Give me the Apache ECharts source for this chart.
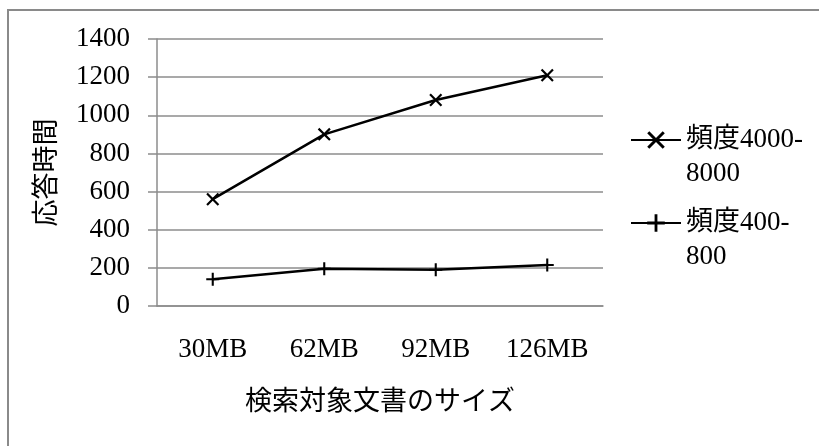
<!DOCTYPE html>
<html>
<head>
<meta charset="utf-8">
<script src="https://cdn.jsdelivr.net/npm/echarts@6/dist/echarts.min.js"></script>
<style>
  html, body { margin: 0; padding: 0; background: #fff; }
  #chart { width: 819px; height: 446px; }
</style>
</head>
<body>
<div id="chart"></div>
<script>
// Document size categories and measured response times
const categories = ['30MB', '62MB', '92MB', '126MB'];
const freqHigh = [560, 900, 1080, 1210];   // 頻度4000-8000
const freqLow = [140, 195, 190, 215];      // 頻度400-800
const yTicks = { min: 0, max: 1400, interval: 200 };

const seriesNames = ['頻度4000-\n8000', '頻度400-\n800'];

// Marker shapes: a diagonal cross and an upright plus
const crossPath = 'path://M0,1.2L1.2,0L5,3.8L8.8,0L10,1.2L6.2,5L10,8.8L8.8,10L5,6.2L1.2,10L0,8.8L3.8,5Z';
const plusPath = 'path://M0,4.2H4.2V0H5.8V4.2H10V5.8H5.8V10H4.2V5.8H0Z';

const serif = '"Liberation Serif", "Noto Sans CJK JP", serif';
const gothic = '"Noto Sans CJK JP", sans-serif';
const gridGray = '#8c8c8c';

const chart = echarts.init(document.getElementById('chart'), null, { renderer: 'canvas' });

// One legend block per series; a leading blank line keeps the marker
// level with the first line of the wrapped label.
function legendBlock(name, top) {
  return {
    data: [name],
    orient: 'vertical',
    left: 630,
    top: top,
    padding: 0,
    itemWidth: 50,
    itemHeight: 22,
    selectedMode: false,
    formatter: (n) => '\n' + n,
    textStyle: {
      fontFamily: serif,
      fontSize: 27,
      color: '#000',
      lineHeight: 34
    }
  };
}

chart.setOption({
  animation: false,
  backgroundColor: '#fff',
  graphic: [{
    type: 'rect',
    shape: { x: 8, y: 10, width: 900, height: 500 },
    style: { fill: 'none', stroke: '#8a8a8a', lineWidth: 2 },
    silent: true
  }],
  grid: { left: 157, right: 216, top: 39, bottom: 140 },
  legend: [legendBlock(seriesNames[0], 89), legendBlock(seriesNames[1], 172)],
  xAxis: {
    type: 'category',
    data: categories,
    boundaryGap: true,
    name: '検索対象文書のサイズ',
    nameLocation: 'middle',
    nameGap: 80,
    nameTextStyle: { fontFamily: gothic, fontSize: 27, color: '#000' },
    axisLine: { show: true, lineStyle: { color: gridGray, width: 1.5 } },
    axisTick: { show: false },
    axisLabel: { fontFamily: serif, fontSize: 27, color: '#000', margin: 30 }
  },
  yAxis: {
    type: 'value',
    min: yTicks.min,
    max: yTicks.max,
    interval: yTicks.interval,
    name: '応答時間',
    nameLocation: 'middle',
    nameGap: 99,
    nameRotate: 90,
    nameTextStyle: { fontFamily: gothic, fontSize: 27, color: '#000' },
    axisLine: { show: true, lineStyle: { color: gridGray, width: 1.5 } },
    axisTick: { show: true, length: 9, lineStyle: { color: gridGray, width: 1.5 } },
    axisLabel: {
      fontFamily: serif, fontSize: 27, color: '#000', margin: 27,
      formatter: (v) => String(v)
    },
    splitLine: { show: true, lineStyle: { color: gridGray, width: 1.5 } }
  },
  series: [
    {
      name: seriesNames[0],
      type: 'line',
      data: freqHigh,
      symbol: crossPath,
      symbolSize: 13,
      showAllSymbol: true,
      lineStyle: { color: '#000', width: 2.5 },
      itemStyle: { color: '#000' }
    },
    {
      name: seriesNames[1],
      type: 'line',
      data: freqLow,
      symbol: plusPath,
      symbolSize: 13,
      showAllSymbol: true,
      lineStyle: { color: '#000', width: 2.5 },
      itemStyle: { color: '#000' }
    }
  ]
});
</script>
</body>
</html>
